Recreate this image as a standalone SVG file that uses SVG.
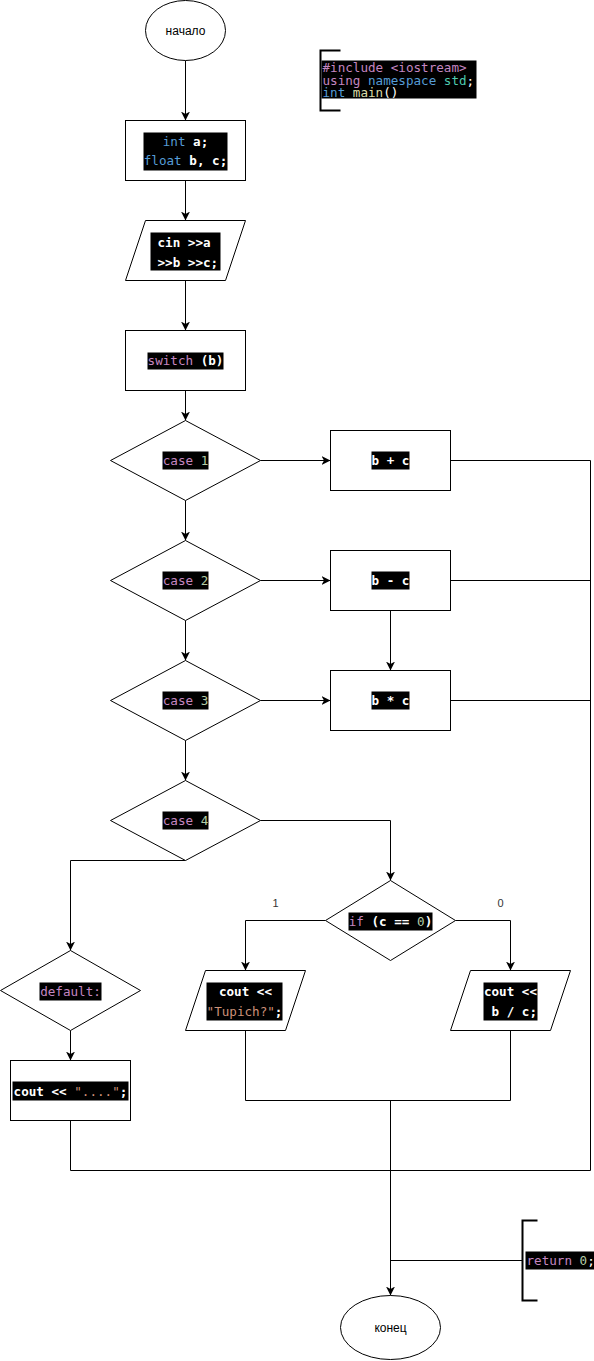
<svg xmlns="http://www.w3.org/2000/svg" width="594" height="1361" viewBox="0 0 594 1361">
  <defs>
    <marker id="arrow" markerUnits="userSpaceOnUse" markerWidth="10" markerHeight="10" refX="9" refY="4.5" orient="auto">
      <path d="M0,0 L9,4.5 L0,9 L2.5,4.5 Z" fill="#000"/>
    </marker>
    <style>
      .shape { fill: #fff; stroke: #000; stroke-width: 1; }
      .conn { fill: none; stroke: #000; stroke-width: 1; }
      .arr { marker-end: url(#arrow); }
      .bracket { fill: none; stroke: #000; stroke-width: 2; }
      .lbl { font-family: "Liberation Sans", Arial, sans-serif; font-size: 12px; fill: #000; text-anchor: middle; }
      .edge-lbl { font-family: "Liberation Sans", Arial, sans-serif; font-size: 11px; fill: #333; text-anchor: middle; }
      .code { font-family: "DejaVu Sans Mono", "Liberation Mono", monospace; font-size: 12.6px; fill: #d4d4d4; }
      .c { text-anchor: middle; }
      .bg { fill: #000; }
      .w { fill: #ffffff; font-weight: 600; }
      .kw { fill: #c586c0; }
      .ty { fill: #569cd6; }
      .ns { fill: #4ec9b0; }
      .fn { fill: #dcdcaa; }
      .num { fill: #b5cea8; }
      .str { fill: #ce9178; }
    </style>
  </defs>

  <g transform="translate(0.5,0.5)">
    <!-- connectors -->
    <g id="connectors">
      <path class="conn arr" d="M185,60 L185,120"/>
      <path class="conn arr" d="M185,180 L185,220"/>
      <path class="conn arr" d="M185,280 L185,330"/>
      <path class="conn arr" d="M185,390 L185,420"/>
      <path class="conn arr" d="M260,460 L330,460"/>
      <path class="conn arr" d="M185,500 L185,540"/>
      <path class="conn arr" d="M260,580 L330,580"/>
      <path class="conn arr" d="M390,610 L390,670"/>
      <path class="conn arr" d="M185,620 L185,660"/>
      <path class="conn arr" d="M260,700 L330,700"/>
      <path class="conn arr" d="M185,740 L185,780"/>
      <path class="conn arr" d="M260,820 L390,820 L390,880"/>
      <path class="conn arr" d="M185,860 L70,860 L70,950"/>
      <path class="conn arr" d="M325,920 L245,920 L245,970"/>
      <path class="conn arr" d="M455,920 L510,920 L510,970"/>
      <path class="conn arr" d="M70,1030 L70,1060"/>
      <path class="conn" d="M450,460 L590,460 L590,1170"/>
      <path class="conn" d="M450,580 L590,580"/>
      <path class="conn" d="M450,700 L590,700"/>
      <path class="conn" d="M70,1120 L70,1170 L590,1170"/>
      <path class="conn" d="M245,1030 L245,1100 L510,1100 L510,1030"/>
      <path class="conn arr" d="M390,1100 L390,1295"/>
      <path class="conn" d="M390,1260 L522,1260"/>
      <text class="edge-lbl" x="275" y="906">1</text>
      <text class="edge-lbl" x="500" y="906">0</text>
    </g>

    <!-- start -->
    <g id="start">
      <ellipse class="shape" cx="185" cy="30" rx="40" ry="30"/>
      <text class="lbl" x="185" y="34">начало</text>
    </g>

    <!-- header comment -->
    <g id="header">
      <path class="bracket" d="M340,50 L320,50 L320,110 L340,110"/>
      <rect class="bg" x="321" y="60" width="155" height="38"/>
      <text class="code" x="322" y="71.5"><tspan class="kw">#include &lt;iostream&gt;</tspan></text>
      <text class="code" x="322" y="84"><tspan class="kw">using</tspan> <tspan class="ty">namespace</tspan> <tspan class="ns">std</tspan><tspan fill="#fff">;</tspan></text>
      <text class="code" x="322" y="96.5"><tspan class="ty">int</tspan> <tspan class="fn">main</tspan><tspan fill="#fff">()</tspan></text>
    </g>

    <!-- declarations -->
    <g id="decl">
      <rect class="shape" x="125" y="120" width="120" height="60"/>
      <rect class="bg" x="143" y="132" width="84" height="38"/>
      <text class="code c" x="185" y="145.5"><tspan class="ty">int</tspan> <tspan class="w">a;</tspan></text>
      <text class="code c" x="185" y="164.5"><tspan class="ty">float</tspan> <tspan class="w">b, c;</tspan></text>
    </g>

    <!-- input -->
    <g id="input">
      <polygon class="shape" points="145,220 245,220 225,280 125,280"/>
      <rect class="bg" x="150" y="232" width="70" height="38"/>
      <text class="code" x="157" y="246"><tspan class="w">cin &gt;&gt;a</tspan></text>
      <text class="code" x="157" y="266"><tspan class="w">&gt;&gt;b &gt;&gt;c;</tspan></text>
    </g>

    <!-- switch -->
    <g id="switch">
      <rect class="shape" x="125" y="330" width="120" height="60"/>
      <rect class="bg" x="147" y="352" width="76" height="17"/>
      <text class="code c" x="185" y="364.5"><tspan class="kw">switch</tspan> <tspan class="w">(b)</tspan></text>
    </g>

    <!-- case 1 -->
    <g id="case1">
      <polygon class="shape" points="185,420 260,460 185,500 110,460"/>
      <rect class="bg" x="162" y="451" width="46" height="18"/>
      <text class="code c" x="185" y="464.5"><tspan class="kw">case</tspan> <tspan class="num">1</tspan></text>
    </g>
    <g id="sum">
      <rect class="shape" x="330" y="430" width="120" height="60"/>
      <rect class="bg" x="371" y="451" width="38" height="18"/>
      <text class="code c" x="390" y="464.5"><tspan class="w">b + c</tspan></text>
    </g>

    <!-- case 2 -->
    <g id="case2">
      <polygon class="shape" points="185,540 260,580 185,620 110,580"/>
      <rect class="bg" x="162" y="571" width="46" height="18"/>
      <text class="code c" x="185" y="584.5"><tspan class="kw">case</tspan> <tspan class="num">2</tspan></text>
    </g>
    <g id="diff">
      <rect class="shape" x="330" y="550" width="120" height="60"/>
      <rect class="bg" x="371" y="571" width="38" height="18"/>
      <text class="code c" x="390" y="584.5"><tspan class="w">b - c</tspan></text>
    </g>

    <!-- case 3 -->
    <g id="case3">
      <polygon class="shape" points="185,660 260,700 185,740 110,700"/>
      <rect class="bg" x="162" y="691" width="46" height="18"/>
      <text class="code c" x="185" y="704.5"><tspan class="kw">case</tspan> <tspan class="num">3</tspan></text>
    </g>
    <g id="prod">
      <rect class="shape" x="330" y="670" width="120" height="60"/>
      <rect class="bg" x="371" y="691" width="38" height="18"/>
      <text class="code c" x="390" y="704.5"><tspan class="w">b * c</tspan></text>
    </g>

    <!-- case 4 -->
    <g id="case4">
      <polygon class="shape" points="185,780 260,820 185,860 110,820"/>
      <rect class="bg" x="162" y="811" width="46" height="18"/>
      <text class="code c" x="185" y="824.5"><tspan class="kw">case</tspan> <tspan class="num">4</tspan></text>
    </g>

    <!-- zero check -->
    <g id="ifzero">
      <polygon class="shape" points="390,880 455,920 390,960 325,920"/>
      <rect class="bg" x="348" y="912" width="84" height="18"/>
      <text class="code c" x="390" y="925.5"><tspan class="kw">if</tspan> <tspan class="w">(c ==</tspan> <tspan class="num">0</tspan><tspan class="w">)</tspan></text>
    </g>

    <!-- output: division by zero -->
    <g id="outzero">
      <polygon class="shape" points="205,970 305,970 285,1030 185,1030"/>
      <rect class="bg" x="206" y="982" width="76" height="38"/>
      <text class="code c" x="245" y="995.5"><tspan class="w">cout &lt;&lt;</tspan></text>
      <text class="code c" x="244" y="1015"><tspan class="str">"Tupich?"</tspan><tspan class="w">;</tspan></text>
    </g>

    <!-- output: quotient -->
    <g id="outdiv">
      <polygon class="shape" points="470,970 570,970 550,1030 450,1030"/>
      <rect class="bg" x="483" y="982" width="54" height="38"/>
      <text class="code c" x="510" y="995.5"><tspan class="w">cout &lt;&lt;</tspan></text>
      <text class="code c" x="510" y="1015"><tspan class="w">&#160;b / c;</tspan></text>
    </g>

    <!-- default -->
    <g id="default">
      <polygon class="shape" points="70,950 140,990 70,1030 0,990"/>
      <rect class="bg" x="39" y="982" width="62" height="18"/>
      <text class="code c" x="70" y="995.5"><tspan class="kw">default:</tspan></text>
    </g>
    <g id="outdefault">
      <rect class="shape" x="10" y="1060" width="120" height="60"/>
      <rect class="bg" x="12" y="1081" width="116" height="19"/>
      <text class="code c" x="70" y="1095"><tspan class="w">cout &lt;&lt;</tspan> <tspan class="str">"...."</tspan><tspan class="w">;</tspan></text>
    </g>

    <!-- return comment -->
    <g id="retnote">
      <path class="bracket" d="M537,1220 L522,1220 L522,1300 L537,1300"/>
      <rect class="bg" x="525" y="1251" width="69" height="18"/>
      <text class="code" x="526" y="1264.5"><tspan class="kw">return</tspan> <tspan class="num">0</tspan><tspan fill="#fff">;</tspan></text>
    </g>

    <!-- end -->
    <g id="end">
      <ellipse class="shape" cx="390" cy="1327" rx="50" ry="32"/>
      <text class="lbl" x="390" y="1331">конец</text>
    </g>
  </g>
</svg>
